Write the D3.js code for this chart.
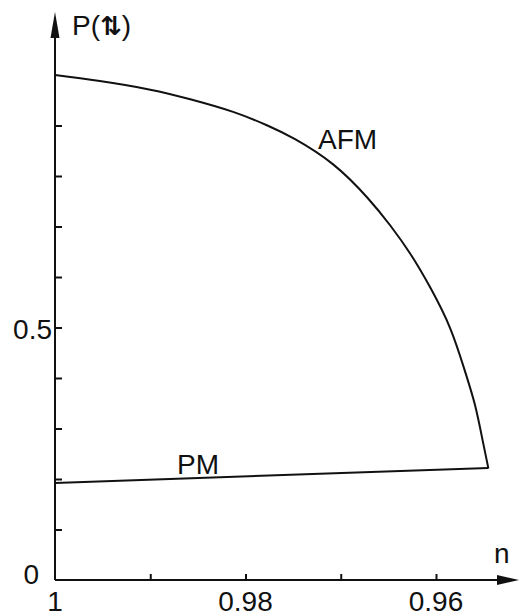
<!DOCTYPE html>
<html>
<head>
<meta charset="utf-8">
<script src="https://cdn.jsdelivr.net/npm/d3@7"></script>
<style>
  body { margin: 0; background: #fff; }
  text { font-family: "Liberation Sans", Arial, sans-serif; fill: #111; }
</style>
</head>
<body>
<script>
// AFM curve: P(up-down) against filling n
const afmN = [1.000, 0.9953, 0.9900, 0.9858, 0.9813, 0.9777, 0.9748, 0.9708, 0.9672, 0.9648, 0.9627, 0.9606, 0.9585, 0.9570, 0.9559, 0.9551, 0.9545];
const afmP = [1.000, 0.988, 0.971, 0.952, 0.927, 0.900, 0.873, 0.823, 0.757, 0.702, 0.646, 0.579, 0.498, 0.416, 0.346, 0.276, 0.221];

// PM line
const pmN = [1.000, 0.9545];
const pmP = [0.192, 0.222];

const xTicks = [1, 0.99, 0.98, 0.97, 0.96];
const xTickLabels = ["1", "", "0.98", "", "0.96"];
const yTicks = [0.1, 0.2, 0.3, 0.4, 0.5, 0.6, 0.7, 0.8, 0.9];

const width = 519, height = 616;

const svg = d3.select("body").append("svg")
    .attr("width", width)
    .attr("height", height);

const x = d3.scaleLinear().domain([1, 0.96]).range([55, 436]);
const y = d3.scaleLinear().domain([0, 1]).range([580, 75]);

// axes lines with arrows
svg.append("line")
    .attr("x1", x(1)).attr("y1", y(0))
    .attr("x2", x(1)).attr("y2", 30)
    .attr("stroke", "#111").attr("stroke-width", 2);
svg.append("path")
    .attr("d", `M${x(1) - 4.5},38 L${x(1)},12 L${x(1) + 4.5},38 Z`)
    .attr("fill", "#111");

svg.append("line")
    .attr("x1", x(1)).attr("y1", y(0))
    .attr("x2", 505).attr("y2", y(0))
    .attr("stroke", "#111").attr("stroke-width", 2);
svg.append("path")
    .attr("d", `M497,${y(0) - 5} L519,${y(0)} L497,${y(0) + 5} Z`)
    .attr("fill", "#111");

// ticks (inward)
const yAxis = svg.append("g")
    .attr("transform", `translate(${x(1)},0)`)
    .call(d3.axisLeft(y).tickValues(yTicks).tickSizeInner(-7).tickSizeOuter(0).tickFormat(""));
yAxis.select(".domain").remove();
yAxis.selectAll("line").attr("stroke", "#111").attr("stroke-width", 2);

const xAxis = svg.append("g")
    .attr("transform", `translate(0,${y(0)})`)
    .call(d3.axisBottom(x).tickValues(xTicks.slice(1)).tickSizeInner(-6).tickSizeOuter(0).tickFormat(""));
xAxis.select(".domain").remove();
xAxis.selectAll("line").attr("stroke", "#111").attr("stroke-width", 2);

// tick labels
svg.selectAll(".xlab")
    .data(xTicks)
    .enter().append("text")
    .attr("x", d => x(d))
    .attr("y", 611)
    .attr("text-anchor", "middle")
    .attr("font-size", 28)
    .text((d, i) => xTickLabels[i]);

svg.append("text")
    .attr("x", x(1) - 3).attr("y", y(0.5) + 11)
    .attr("text-anchor", "end").attr("font-size", 28)
    .text("0.5");
svg.append("text")
    .attr("x", x(1) - 16).attr("y", y(0) + 4)
    .attr("text-anchor", "end").attr("font-size", 28)
    .text("0");

// axis titles
const yTitle = svg.append("text")
    .attr("x", 72).attr("y", 35)
    .attr("font-size", 28);
yTitle.append("tspan").text("P(");
yTitle.append("tspan")
    .attr("font-family", "DejaVu Sans")
    .attr("font-weight", "bold")
    .attr("font-size", 26)
    .text("⇅");
yTitle.append("tspan").text(")");

svg.append("text")
    .attr("x", 494).attr("y", 563)
    .attr("font-size", 28)
    .text("n");

// curves
const line = d3.line()
    .x(d => x(d[0]))
    .y(d => y(d[1]))
    .curve(d3.curveNatural);

svg.append("path")
    .attr("d", line(afmN.map((n, i) => [n, afmP[i]])))
    .attr("fill", "none")
    .attr("stroke", "#111")
    .attr("stroke-width", 2);

svg.append("path")
    .attr("d", line(pmN.map((n, i) => [n, pmP[i]])))
    .attr("fill", "none")
    .attr("stroke", "#111")
    .attr("stroke-width", 2);

// curve labels
svg.append("text")
    .attr("x", 318).attr("y", 149)
    .attr("font-size", 28)
    .text("AFM");
svg.append("text")
    .attr("x", 177).attr("y", 474)
    .attr("font-size", 28)
    .text("PM");
</script>
</body>
</html>
